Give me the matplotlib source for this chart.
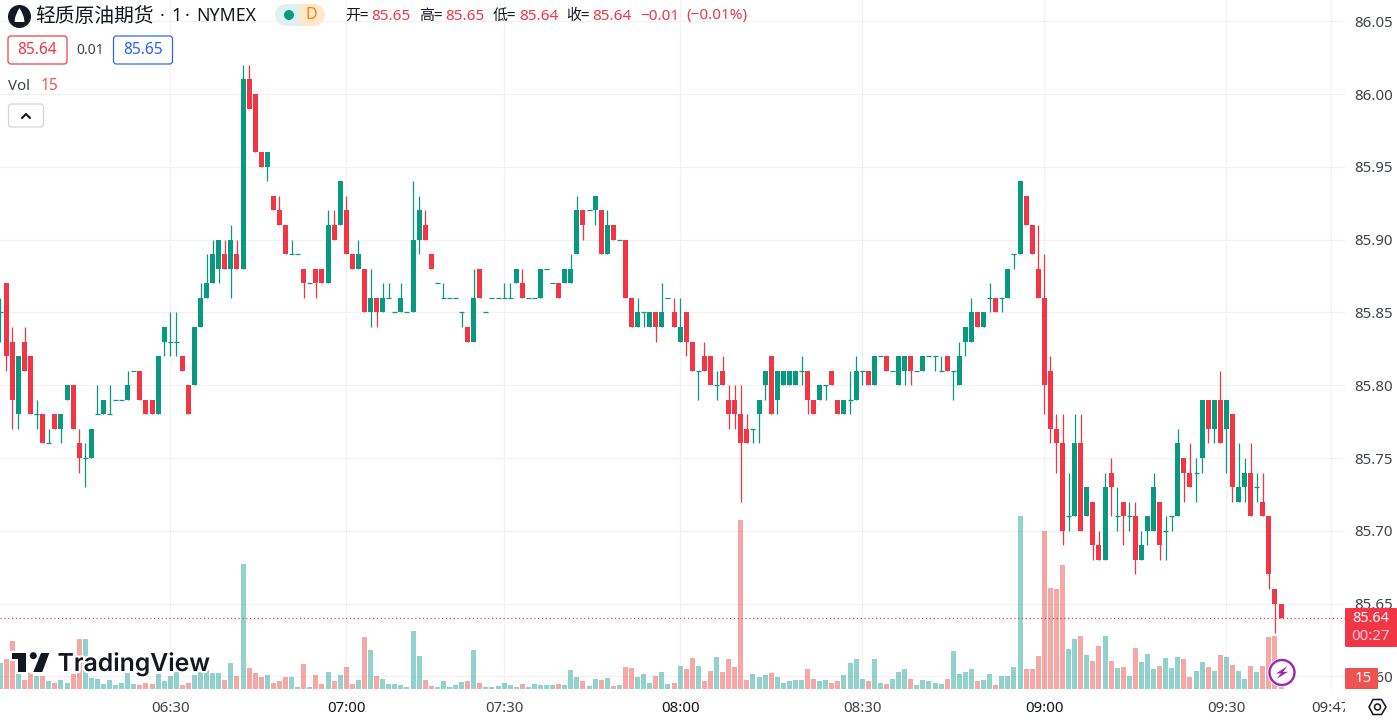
import matplotlib
matplotlib.use("Agg")
import matplotlib.pyplot as plt
import numpy as np
from matplotlib.patches import Rectangle, FancyBboxPatch, Polygon, Circle, Wedge, PathPatch
from matplotlib.path import Path
from matplotlib.transforms import Bbox, TransformedBbox, IdentityTransform
import matplotlib.patheffects as pe

# OHLC in hundredths above 85.00
opens = [85,87,83,78,83,82,78,78,76,78,77,79,80,76,75,75,78,78,78,79,79,79,81,81,79,79,78,83,83,83,
82,80,80,84,86,87,88,89,88,89,88,101,100,96,95,93,92,91,89,89,88,87,88,88,87,91,91,92,89,88,
88,85,86,85,86,85,85,85,85,90,91,89,87,86,86,86,85,84,83,88,85,86,86,86,86,87,87,86,86,86,
88,87,87,87,87,89,92,92,92,92,89,91,90,90,86,84,85,84,85,84,86,85,83,85,83,81,82,82,80,81,
79,79,78,77,77,78,80,82,79,80,80,80,81,81,79,79,80,81,79,78,79,79,81,81,80,82,82,81,80,81,
82,81,81,82,82,81,82,81,80,83,83,85,84,86,86,86,86,89,89,93,91,88,86,81,77,76,71,71,76,71,
72,69,68,74,71,72,71,71,68,70,70,72,70,71,71,75,74,74,75,79,77,79,77,78,72,73,74,73,72,71,
66,65]
highs = [86,87,84,82,84,82,79,78,77,78,78,80,80,77,76,77,80,79,80,79,79,81,81,81,79,79,82,84,85,85,
82,80,84,87,89,90,90,90,91,90,102,102,100,96,96,93,93,91,90,89,88,87,88,88,92,92,94,93,89,90,
88,88,86,87,87,85,87,85,94,93,92,89,87,87,86,86,85,84,88,88,85,86,86,87,87,88,88,86,86,88,
88,87,87,88,89,93,92,92,93,92,92,91,90,90,86,86,85,85,85,87,86,86,86,85,83,81,83,82,81,82,
80,80,80,78,77,79,81,82,81,81,81,81,82,81,79,80,80,81,79,79,81,82,81,81,82,82,82,81,82,82,
82,81,82,82,82,82,82,81,83,84,86,85,85,87,86,86,88,89,94,93,91,91,89,82,78,78,74,78,78,73,
72,70,74,75,73,72,72,72,70,71,74,72,71,71,77,75,76,75,79,79,79,81,79,78,76,75,76,74,74,71,
66,65]
lows = [83,81,77,77,81,78,77,76,76,77,76,79,77,74,73,75,78,78,78,79,79,79,81,79,78,78,78,82,82,82,
81,78,80,84,86,87,87,88,86,88,88,99,96,95,94,92,91,89,89,89,86,87,86,87,87,90,91,89,88,88,
85,84,84,85,86,85,85,85,85,89,90,88,87,86,86,86,84,83,83,86,85,86,86,86,86,87,86,86,86,86,
88,87,86,87,87,89,90,92,91,89,89,90,90,86,84,84,84,84,83,84,86,84,83,82,81,79,81,80,79,80,
77,77,72,76,76,76,79,78,78,80,80,80,80,78,78,79,79,80,78,78,78,79,80,80,80,82,81,81,80,80,
80,81,81,82,81,81,81,79,80,82,83,84,84,85,85,85,86,88,89,91,89,86,78,76,74,69,70,71,70,71,
68,68,68,71,70,69,70,67,68,69,70,68,68,70,71,72,73,72,74,76,76,76,74,72,72,72,71,72,71,66,
63,64]
closes = [85,82,79,82,81,78,78,76,76,77,78,80,77,75,75,77,78,79,78,79,79,80,81,79,78,78,82,84,83,83,
81,78,84,86,87,89,90,88,90,88,101,99,96,95,96,92,91,89,89,89,87,87,87,87,91,90,94,89,88,89,
85,86,85,86,86,85,86,85,90,92,90,88,87,86,86,86,85,83,86,86,85,86,86,86,86,88,86,86,86,88,
88,87,86,88,88,92,91,92,93,89,91,90,90,86,84,85,85,85,84,85,86,84,84,83,81,81,81,80,80,80,
78,78,76,76,77,79,81,78,81,81,81,81,81,79,78,80,80,80,78,79,79,81,81,80,82,82,81,81,82,82,
81,81,82,82,82,81,81,81,82,84,85,84,85,86,85,86,88,89,94,91,89,86,80,77,76,70,71,76,70,73,
69,68,73,73,71,71,71,68,69,71,73,69,70,71,76,74,73,74,79,77,79,76,79,73,73,74,71,73,71,67,
65,64]
volumes = [195,225,360,172,68,122,98,98,60,45,68,45,112,375,375,82,75,38,68,30,
45,118,38,30,45,38,112,60,98,128,30,45,105,128,142,120,120,68,195,98,
938,158,120,90,105,45,60,90,90,15,188,15,105,38,128,60,105,165,38,68,
390,292,98,75,38,38,30,15,435,248,68,22,15,60,15,30,52,60,292,45,
15,15,22,45,30,15,38,15,38,30,30,30,38,30,142,90,60,22,75,68,
82,22,30,165,158,90,112,45,98,128,38,45,172,150,232,172,60,135,240,128,
225,165,1268,68,112,90,105,120,90,45,60,68,68,150,75,60,68,45,60,105,
195,225,75,60,225,45,38,75,128,150,75,30,65,58,42,35,72,282,110,125,
148,58,65,110,28,95,95,162,1295,148,148,245,1182,755,748,928,298,372,395,252,
208,320,395,208,155,162,95,305,200,260,148,170,230,155,238,222,88,132,200,162,
132,252,238,178,132,72,170,125,170,388,395,15]

price_ticks = [85.60,85.65,85.70,85.75,85.80,85.85,85.90,85.95,86.00,86.05]
time_ticks = [28,57,83,112,142,172,202,219.2]
time_labels = ["06:30","07:00","07:30","08:00","08:30","09:00","09:30","09:47"]
bold_labels = {"07:00","08:00","09:00"}
last_price = 85.64

UP, DOWN = "#089981", "#F23645"
VUP, VDOWN = "#26A69A", "#EF5350"
TXT = "#131722"; GRID = "#F1F2F4"; AXT = "#3f424d"
W, H = 1397, 726
CJK = ['Noto Sans CJK SC', 'DejaVu Sans']
LAT = 'Noto Sans'
px = 0.72

o, h, l, c = [85 + np.array(a) / 100 for a in (opens, highs, lows, closes)]
idx = np.arange(len(o))
up = c >= o
colors = np.where(up, UP, DOWN)
vcolors = np.where(up, VUP, VDOWN)

fig = plt.figure(figsize=(W/100, H/100), dpi=100, facecolor="white")
rect = [0, (H-689)/H, 1345/W, 689/H]
xlim = (-0.043, (1345-0.26)/6.07)
ylim = (86 - (689-94)/1456, 86 + 94/1456)

ax_g = fig.add_axes(rect, zorder=0)
ax_v = fig.add_axes(rect, zorder=1, facecolor="none")
ax_p = fig.add_axes(rect, zorder=2, facecolor="none")

# grid + axis text
ax_g.set_xlim(xlim); ax_g.set_ylim(ylim)
ax_g.set_xticks(time_ticks); ax_g.set_xticklabels(time_labels)
ax_g.set_yticks(price_ticks); ax_g.yaxis.tick_right()
ax_g.set_yticklabels([f"{p:.2f}" for p in price_ticks])
ax_g.grid(True, color=GRID, lw=0.85)
ax_g.tick_params(axis="both", length=0, labelcolor=AXT, labelsize=15*px)
ax_g.tick_params(axis="x", pad=8.5)
ax_g.tick_params(axis="y", pad=6.5)
for s in ax_g.spines.values(): s.set_visible(False)
clipb = TransformedBbox(Bbox([[0,0],[1345,H]]), IdentityTransform())
for lbl in ax_g.get_xticklabels():
    lbl.set_family(LAT)
    if lbl.get_text() in bold_labels:
        lbl.set_fontweight("bold"); lbl.set_color(TXT)
    lbl.set_clip_box(clipb); lbl.set_clip_on(True)
for lbl in ax_g.get_yticklabels():
    lbl.set_family(LAT); lbl.set_va("center_baseline")

# volume
ax_v.set_xlim(xlim); ax_v.set_ylim(0, 689*7.5); ax_v.axis("off")
ax_v.bar(idx, volumes, width=5/6.07, color=vcolors, alpha=0.5, lw=0)

# candles
ax_p.set_xlim(xlim); ax_p.set_ylim(ylim); ax_p.axis("off")
wick = 1.0*px*1.25
ax_p.vlines(idx, l, h, colors=colors, lw=wick, zorder=2)
bw = 5/6.07
ax_p.bar(idx, np.abs(c-o), bottom=np.minimum(o,c), width=bw, color=colors, lw=0, zorder=3)
doji = c == o
ax_p.hlines(c[doji], idx[doji]-bw/2, idx[doji]+bw/2, colors=colors[doji], lw=wick, zorder=3)
ax_p.axhline(last_price, color=DOWN, lw=1.0*px*1.2, ls=(0,(1,2.2)), zorder=1)

# overlay in pixel coordinates for chrome
ov = fig.add_axes([0,0,1,1], zorder=5, facecolor="none")
ov.set_xlim(0,W); ov.set_ylim(H,0); ov.axis("off")

def T(x,y,s,size=14,color=TXT,fam=LAT,ha="left",va="center",**k):
    return ov.text(x,y,s,fontsize=size*px,color=color,family=fam,ha=ha,va=va,**k)

# symbol logo
ov.add_patch(Circle((19.5,16.5),11.5,color=TXT,lw=0))
drop = Path([(19.5,8),(14.6,15.5),(14.6,22),(19.5,22),(24.4,22),(24.4,15.5),(19.5,8)],
            [Path.MOVETO,Path.CURVE3,Path.CURVE3,Path.CURVE3,Path.CURVE3,Path.CURVE3,Path.CURVE3])
ov.add_patch(PathPatch(drop,fc="white",lw=0))
T(35.5,16,"轻质原油期货",19.8,fam=CJK)
T(160,16,"·",18)
T(171,16,"1",18)
T(185,16,"·",18)
T(196.5,16,"NYMEX",17.7)

# market status pill
ov.add_patch(Wedge((286,15),11,90,270,fc="#DDF2EE",lw=0))
ov.add_patch(Rectangle((286,4),14,22,fc="#DDF2EE",lw=0))
ov.add_patch(Rectangle((300,4),14,22,fc="#FFE7CC",lw=0))
ov.add_patch(Wedge((314,15),11,-90,90,fc="#FFE7CC",lw=0))
ov.add_patch(Circle((289,15),5,fc=UP,lw=0))
T(311,15,"D",16,color="#FF8000",ha="center",fontweight="bold")

# OHLC legend
for x,s,col in [(345,"开=",TXT),(371,"85.65",DOWN),(419,"高=",TXT),(445,"85.65",DOWN),
                (493,"低=",TXT),(519,"85.64",DOWN),(566,"收=",TXT),(592,"85.64",DOWN),
                (640,"−0.01",DOWN),(686,"(−0.01%)",DOWN)]:
    T(x,16,s,15 if col==TXT else 15.3,color=col,fam=CJK if col==TXT else LAT)

# bid / ask
def box(x0,x1,y0,y1,ec,fc="white",r=3):
    ov.add_patch(FancyBboxPatch((x0,y0),x1-x0,y1-y0,boxstyle=f"round,pad=0,rounding_size={r}",fc=fc,ec=ec,lw=1*px*1.2))
box(8,67,36,64,DOWN); T(37.5,50.5,"85.64",15.5,color=DOWN,ha="center")
T(90,50.5,"0.01",14,color="#3f424d",ha="center")
box(113.5,172.5,36,64,"#2962FF"); T(143,50.5,"85.65",15.5,color="#2962FF",ha="center")
T(8,86,"Vol",15,color="#3f424d"); T(41,86,"15",15.5,color=VDOWN)
box(8.5,43.5,104,127,"#D1D4DC")
ov.plot([22,26,30],[118,114,118],color=TXT,lw=1.6*px*1.3,solid_capstyle="round",solid_joinstyle="round")

# TradingView watermark
halo = [pe.withStroke(linewidth=3,foreground="white")]
ov.add_patch(Polygon([(12,653),(26,653),(26,672),(18,672),(18,659),(12,659)],fc=TXT,lw=0,path_effects=halo,zorder=4))
ov.add_patch(Circle((33.3,655.7),3.5,fc=TXT,lw=0,path_effects=halo,zorder=4))
ov.add_patch(Polygon([(41,653),(49.3,653),(42.3,672),(33.3,672)],fc=TXT,lw=0,path_effects=halo,zorder=4))
T(57.5,663.5,"TradingView",24.7,fam="Inter",fontweight=600,path_effects=halo,zorder=4)

# lightning button
ov.add_patch(Circle((1282,672.5),14.5,fc="white",lw=0))
ov.add_patch(Circle((1282,672.5),12.5,fc="white",ec="#9C27B0",lw=2*px*1.2))
ov.add_patch(Polygon([(1287.5,666),(1276,673.5),(1281,673.5),(1276.5,679),(1288,671.8),(1283,671.8)],fc="#9C27B0",lw=0))

# price tags
ov.add_patch(FancyBboxPatch((1345,608),52,39,boxstyle="round,pad=0,rounding_size=1",fc=DOWN,lw=0))
T(1371,619,"85.64",14.5,color="white",ha="center",fontweight="bold")
T(1371,637,"00:27",15,color="#FFFFFF",ha="center",alpha=0.75)
ov.add_patch(FancyBboxPatch((1345,668),33,21,boxstyle="round,pad=0,rounding_size=1",fc=VDOWN,lw=0))
T(1363,678.5,"15",15,color="white",ha="center",fontweight="bold")

# settings icon
ov.add_patch(Polygon([(1369,707),(1373,699.5),(1381.5,699.5),(1386,707),(1381.5,714.5),(1373,714.5)],fc="none",ec=TXT,lw=1.3*px*1.2))
ov.add_patch(Circle((1377.5,707),3,fc="none",ec=TXT,lw=1.3*px*1.2))

fig.savefig("out.png", dpi=100, facecolor="white")
